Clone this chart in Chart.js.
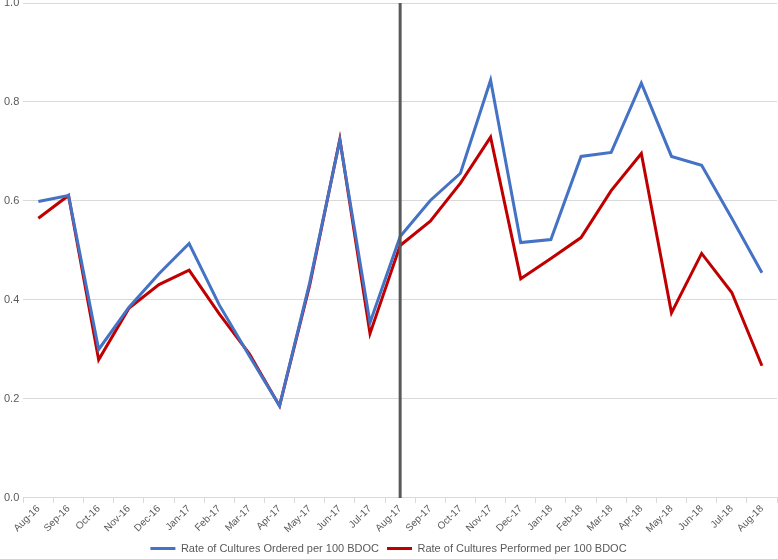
<!DOCTYPE html>
<html>
<head>
<meta charset="utf-8">
<script src="https://cdn.jsdelivr.net/npm/chart.js@4/dist/chart.umd.min.js"></script>
<style>
  html, body { margin: 0; padding: 0; background: #fff; }
  #wrap { width: 778px; height: 559px; }
</style>
</head>
<body>
<div id="wrap"><canvas id="myChart"></canvas></div>
<script>
// ラベル（月）
const MONTHS = ['Aug-16','Sep-16','Oct-16','Nov-16','Dec-16','Jan-17','Feb-17','Mar-17','Apr-17',
                'May-17','Jun-17','Jul-17','Aug-17','Sep-17','Oct-17','Nov-17','Dec-17','Jan-18',
                'Feb-18','Mar-18','Apr-18','May-18','Jun-18','Jul-18','Aug-18']
// 培養オーダー率
const ORDERED = [0.599,0.611,0.300,0.385,0.453,0.514,0.390,0.287,0.186,0.435,0.723,0.354,0.528,
                 0.601,0.656,0.844,0.516,0.522,0.690,0.698,0.838,0.690,0.672,0.565,0.455]
// 培養実施率
const PERFORMED = [0.565,0.611,0.279,0.383,0.431,0.460,0.372,0.291,0.186,0.430,0.725,0.332,0.510,
                   0.559,0.636,0.729,0.443,0.484,0.526,0.621,0.696,0.374,0.494,0.415,0.267]
const Y_TICKS = [0.0, 0.2, 0.4, 0.6, 0.8, 1.0]
// 縦線を引く月
const MARK_MONTH = 'Aug-17'

const TEXT_COLOR = '#595959'
const GRID_COLOR = '#d9d9d9'
const FONT = 'Liberation Sans'

// 縦線プラグイン
const markLine = {
    id: 'markLine',
    afterDatasetsDraw(chart){
        const x = chart.scales.x.getPixelForValue(MONTHS.indexOf(MARK_MONTH))
        const area = chart.chartArea
        const ctx = chart.ctx
        ctx.save()
        ctx.strokeStyle = '#595959'
        ctx.lineWidth = 3
        ctx.beginPath()
        ctx.moveTo(x, area.top)
        ctx.lineTo(x, area.bottom)
        ctx.stroke()
        ctx.restore()
    }
}

new Chart(document.getElementById('myChart'), {
    type: 'line',
    data: {
        labels: MONTHS,
        datasets: [
            {label: 'Rate of Cultures Ordered per 100 BDOC', data: ORDERED,
             borderColor: '#4472C4', backgroundColor: '#4472C4', borderWidth: 3, pointRadius: 0, tension: 0},
            {label: 'Rate of Cultures Performed per 100 BDOC', data: PERFORMED,
             borderColor: '#C00000', backgroundColor: '#C00000', borderWidth: 3, pointRadius: 0, tension: 0}
        ]
    },
    options: {
        responsive: true,
        maintainAspectRatio: false,
        animation: false,
        layout: {padding: {left: 0, right: 1, top: 0, bottom: -5}},
        plugins: {
            legend: {
                position: 'bottom',
                labels: {
                    boxWidth: 25, boxHeight: 3,
                    color: TEXT_COLOR, font: {family: FONT, size: 11}, padding: 8,
                    generateLabels(chart){
                        const items = Chart.defaults.plugins.legend.labels.generateLabels(chart)
                        items.forEach(it => { it.lineWidth = 0 })
                        return items
                    }
                }
            },
            tooltip: {enabled: false}
        },
        scales: {
            x: {
                offset: true,
                grid: {display: true, drawOnChartArea: false, offset: true, tickLength: 5, color: GRID_COLOR},
                border: {color: GRID_COLOR},
                ticks: {color: TEXT_COLOR, font: {family: FONT, size: 10}, minRotation: 45, maxRotation: 45, autoSkip: false, padding: 0}
            },
            y: {
                min: 0, max: 1,
                afterBuildTicks(axis){ axis.ticks = Y_TICKS.map(v => ({value: v})) },
                afterFit(axis){ axis.paddingTop = 3 },
                grid: {color: GRID_COLOR, drawTicks: false},
                border: {display: false},
                ticks: {color: TEXT_COLOR, font: {family: FONT, size: 11}, padding: 4,
                        callback: v => Number(v).toFixed(1)}
            }
        }
    },
    plugins: [markLine]
})
</script>
</body>
</html>
